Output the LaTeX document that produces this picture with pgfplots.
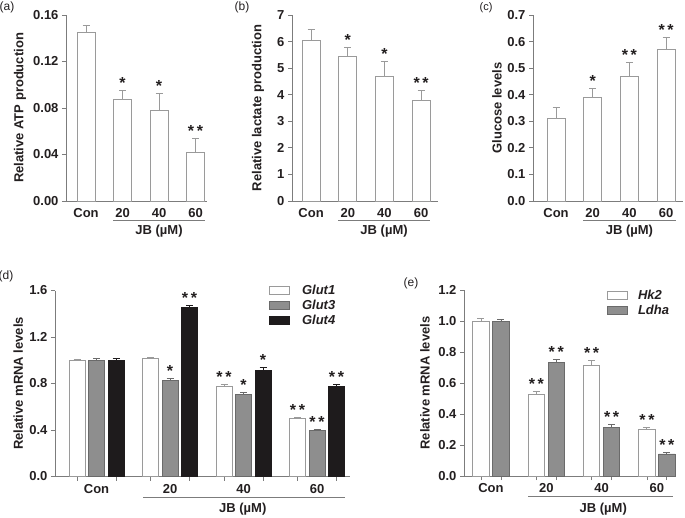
\documentclass[border=0pt]{standalone}
\usepackage{pgfplots}
\pgfplotsset{compat=1.18}
\usepackage{fontspec}
\setmainfont{Liberation Sans}
\definecolor{axgray}{HTML}{7C7C7C}
\definecolor{txt}{HTML}{231F20}
\definecolor{wline}{HTML}{9A9A9A}
\definecolor{gfill}{HTML}{8E8E8E}
\definecolor{gline}{HTML}{6A6A6A}
\definecolor{kfill}{HTML}{1E1B1C}
\newcommand{\lab}{\fontsize{13}{15}\selectfont\bfseries}
\newcommand{\stf}{\fontsize{16}{16}\selectfont\bfseries}
\tikzset{st/.style={anchor=base, font=\stf, text=txt, inner sep=0pt}}
\pgfplotsset{
  panel/.style={
    scale only axis, height=186pt, anchor=south west,
    axis lines=left, axis line style={-, axgray, line width=0.9pt},
    ymin=0, ybar, clip=false,
    tick align=outside, major tick length=4pt,
    tick style={axgray, line width=0.9pt},
    /pgf/number format/assume math mode=true,
    tick label style={font=\lab, text=txt},
    label style={font=\lab, text=txt},
  },
  ylab/.style={ylabel style={at={(axis description cs:#1,0.5)}, anchor=center}},
  wbar/.style={fill=white, draw=wline, line width=0.9pt},
  gbar/.style={fill=gfill, draw=gline, line width=0.9pt},
  kbar/.style={fill=kfill, draw=kfill, line width=0.9pt},
  erb/.style={/pgfplots/error bars/y dir=plus, /pgfplots/error bars/y explicit,
    /pgfplots/error bars/error bar style={line width=0.9pt, draw=#1, solid},
    /pgfplots/error bars/error mark options={rotate=90, line width=0.9pt, mark size=3.5pt, draw=#1}},
  leg/.style={legend image code/.code={\draw[##1] (0pt,-4pt) rectangle (20pt,4pt);}},
}
\begin{document}
\begin{tikzpicture}
\path[use as bounding box] (0,0) rectangle (685pt,517pt);
% panel labels
\node[font=\fontsize{12}{12}\selectfont, text=txt] at (7pt,509.5pt) {(a)};
\node[font=\fontsize{12}{12}\selectfont, text=txt] at (242pt,509.5pt) {(b)};
\node[font=\fontsize{11}{11}\selectfont, text=txt] at (486pt,509.5pt) {(c)};
\node[font=\fontsize{12}{12}\selectfont, text=txt] at (6pt,241pt) {(d)};
\node[font=\fontsize{12}{12}\selectfont, text=txt] at (411pt,234pt) {(e)};

% (a)
\begin{axis}[panel, at={(66pt,316pt)}, width=141pt,
  xmin=-0.548, xmax=3.315, ymax=0.16, bar width=18pt,
  ytick={0,0.04,0.08,0.12,0.16},
  yticklabel style={/pgf/number format/.cd, fixed, fixed zerofill, precision=2},
  xtick={0,1,2,3}, xticklabels={Con,20,40,60}, x tick style={draw=none},
  ylabel={Relative ATP production}, ylab=-0.326]
\addplot[wbar, erb=wline] coordinates {(0,0.1448) +- (0,0.0063) (1,0.0875) +- (0,0.0074) (2,0.0783) +- (0,0.0143) (3,0.0416) +- (0,0.0123)};
\node[st] at ([yshift=2pt]axis cs:1,0.0949) {*};
\node[st] at ([yshift=2pt]axis cs:2,0.0926) {*};
\node[st] at ([yshift=2pt]axis cs:3,0.0539) {*\,*};
\draw[axgray, line width=0.9pt] ([yshift=-19pt]axis cs:0.74,0) -- ([yshift=-19pt]axis cs:3.26,0);
\node[font=\lab, text=txt] at ([yshift=-30pt]axis cs:2,0) {JB (µM)};
\end{axis}

% (b)
\begin{axis}[panel, at={(292pt,316pt)}, width=146pt,
  xmin=-0.52, xmax=3.46, ymax=7, bar width=18pt,
  ytick={0,1,2,3,4,5,6,7},
  xtick={0,1,2,3}, xticklabels={Con,20,40,60}, x tick style={draw=none},
  ylabel={Relative lactate production}, ylab=-0.233]
\addplot[wbar, erb=wline] coordinates {(0,6.03) +- (0,0.43) (1,5.45) +- (0,0.33) (2,4.69) +- (0,0.55) (3,3.79) +- (0,0.38)};
\node[st] at ([yshift=2pt]axis cs:1,5.78) {*};
\node[st] at ([yshift=2pt]axis cs:2,5.24) {*};
\node[st] at ([yshift=2pt]axis cs:3,4.17) {*\,*};
\draw[axgray, line width=0.9pt] ([yshift=-19pt]axis cs:0.74,0) -- ([yshift=-19pt]axis cs:3.24,0);
\node[font=\lab, text=txt] at ([yshift=-30pt]axis cs:1.99,0) {JB (µM)};
\end{axis}

% (c)
\begin{axis}[panel, at={(533pt,316pt)}, width=150pt,
  xmin=-0.627, xmax=3.46, ymax=0.7, bar width=18pt,
  ytick={0,0.1,0.2,0.3,0.4,0.5,0.6,0.7},
  yticklabel style={/pgf/number format/.cd, fixed, fixed zerofill, precision=1},
  xtick={0,1,2,3}, xticklabels={Con,20,40,60}, x tick style={draw=none},
  ylabel={Glucose levels}, ylab=-0.24]
\addplot[wbar, erb=wline] coordinates {(0,0.311) +- (0,0.042) (1,0.390) +- (0,0.033) (2,0.470) +- (0,0.052) (3,0.572) +- (0,0.044)};
\node[st] at ([yshift=2pt]axis cs:1,0.423) {*};
\node[st] at ([yshift=2pt]axis cs:2,0.522) {*\,*};
\node[st] at ([yshift=2pt]axis cs:3,0.616) {*\,*};
\draw[axgray, line width=0.9pt] ([yshift=-19pt]axis cs:0.74,0) -- ([yshift=-19pt]axis cs:3.27,0);
\node[font=\lab, text=txt] at ([yshift=-30pt]axis cs:2,0) {JB (µM)};
\end{axis}

% (d)
\begin{axis}[panel, at={(55pt,40.5pt)}, width=295pt,
  xmin=-0.565, xmax=3.449, ymax=1.6, bar width=16pt, ybar=3.5pt,
  ytick={0,0.4,0.8,1.2,1.6},
  yticklabel style={/pgf/number format/.cd, fixed, fixed zerofill, precision=1},
  xtick={-0.265,0.265,0.735,1.265,1.735,2.265,2.735,3.265}, xticklabels={},
  extra x ticks={0,1,2,3}, extra x tick labels={Con,20,40,60},
  extra x tick style={x tick style={draw=none}},
  ylabel={Relative mRNA levels}, ylab=-0.125,
  legend style={draw=none, fill=none, at={(axis description cs:0.715,1.05)}, anchor=north west,
    font=\fontsize{13}{15}\selectfont\bfseries\itshape, text=txt, row sep=0pt,
    /tikz/every odd column/.append style={column sep=10pt}},
  legend cell align=left]
\addplot[wbar, leg, erb=wline] coordinates {(0,1.0) +- (0,0.006) (1,1.015) +- (0,0.010) (2,0.774) +- (0,0.017) (3,0.497) +- (0,0.009)};
\addplot[gbar, leg, erb=gline] coordinates {(0,1.0) +- (0,0.013) (1,0.823) +- (0,0.020) (2,0.706) +- (0,0.020) (3,0.397) +- (0,0.006)};
\addplot[kbar, leg, erb=kfill] coordinates {(0,1.0) +- (0,0.013) (1,1.451) +- (0,0.020) (2,0.914) +- (0,0.020) (3,0.771) +- (0,0.018)};
\legend{Glut1,Glut3,Glut4}
\node[st] at ([yshift=2pt]axis cs:1,0.843) {*};
\node[st] at ([yshift=2pt]axis cs:1.265,1.471) {*\,*};
\node[st] at ([yshift=2pt]axis cs:1.735,0.791) {*\,*};
\node[st] at ([yshift=2pt]axis cs:2,0.726) {*};
\node[st] at ([yshift=2pt]axis cs:2.265,0.934) {*};
\node[st] at ([yshift=2pt]axis cs:2.735,0.506) {*\,*};
\node[st] at ([yshift=2pt]axis cs:3,0.403) {*\,*};
\node[st] at ([yshift=2pt]axis cs:3.265,0.789) {*\,*};
\draw[axgray, line width=0.9pt] ([yshift=-20.5pt]axis cs:0.633,0) -- ([yshift=-20.5pt]axis cs:3.38,0);
\node[font=\lab, text=txt] at ([yshift=-33pt]axis cs:1.99,0) {JB (µM)};
\end{axis}

% (e)
\begin{axis}[panel, at={(464pt,41pt)}, width=212pt,
  xmin=-0.488, xmax=3.345, ymax=1.2, bar width=16.5pt, ybar=3.5pt,
  ytick={0,0.2,0.4,0.6,0.8,1.0,1.2},
  yticklabel style={/pgf/number format/.cd, fixed, fixed zerofill, precision=1},
  xtick={-0.18,0.18,0.82,1.18,1.82,2.18,2.82,3.18}, xticklabels={},
  extra x ticks={0,1,2,3}, extra x tick labels={Con,20,40,60},
  extra x tick style={x tick style={draw=none}},
  ylabel={Relative mRNA levels}, ylab=-0.184,
  legend style={draw=none, fill=none, at={(axis description cs:0.66,1.02)}, anchor=north west,
    font=\fontsize{13}{15}\selectfont\bfseries\itshape, text=txt, row sep=0pt,
    /tikz/every odd column/.append style={column sep=8pt}},
  legend cell align=left]
\addplot[wbar, leg, erb=wline] coordinates {(0,1.0) +- (0,0.017) (1,0.523) +- (0,0.020) (2,0.716) +- (0,0.028) (3,0.299) +- (0,0.017)};
\addplot[gbar, leg, erb=gline] coordinates {(0,1.0) +- (0,0.010) (1,0.735) +- (0,0.018) (2,0.316) +- (0,0.019) (3,0.142) +- (0,0.012)};
\legend{Hk2,Ldha}
\node[st] at ([yshift=2pt]axis cs:0.82,0.543) {*\,*};
\node[st] at ([yshift=2pt]axis cs:1.18,0.752) {*\,*};
\node[st] at ([yshift=2pt]axis cs:1.82,0.744) {*\,*};
\node[st] at ([yshift=2pt]axis cs:2.18,0.335) {*\,*};
\node[st] at ([yshift=2pt]axis cs:2.82,0.316) {*\,*};
\node[st] at ([yshift=2pt]axis cs:3.18,0.153) {*\,*};
\draw[axgray, line width=0.9pt] ([yshift=-20.5pt]axis cs:0.67,0) -- ([yshift=-20.5pt]axis cs:3.29,0);
\node[font=\lab, text=txt] at ([yshift=-33pt]axis cs:2.03,0) {JB (µM)};
\end{axis}
\end{tikzpicture}
\end{document}
